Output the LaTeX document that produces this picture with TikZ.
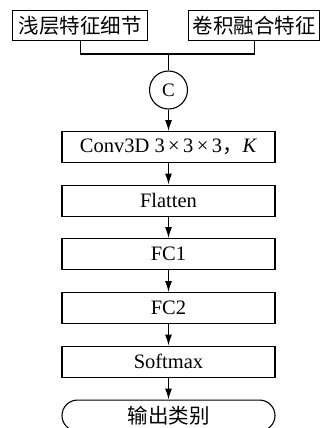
\documentclass[tikz,border=0pt]{standalone}
\usepackage{fontspec}
\setmainfont{Liberation Serif}
\newfontfamily\cjk{Noto Sans CJK SC}
\usetikzlibrary{arrows.meta,shapes.misc}
\newcommand{\tms}{\,×\,}
\begin{document}
\begin{tikzpicture}[x=1pt,y=-1pt,
  line width=1.1pt,
  font=\fontsize{20.5}{22}\selectfont,
  stagebox/.style={draw, minimum width=213pt, minimum height=31pt, inner sep=0pt, anchor=north},
  inbox/.style={draw, minimum height=30pt, inner sep=0pt, anchor=north west, font=\fontsize{20.5}{22}\selectfont\cjk},
  flow/.style={-{Latex[length=11pt,width=7pt]}},
]
\useasboundingbox (0,0) rectangle (321,428);

% inputs
\node[inbox, minimum width=135pt] (shallow) at (12,10) {浅层特征细节};
\node[inbox, minimum width=131pt] (fused) at (188,10) {卷积融合特征};

% concatenation
\node[draw, circle, minimum size=38pt, inner sep=0pt, font=\fontsize{19}{20}\selectfont] (cat) at (168.5,90) {C};
\coordinate (join) at (168.5,54);
\draw (shallow.south) |- (join) -| (fused.south);
\draw (join) -- (cat.north);

% processing chain
\node[stagebox] (conv) at (168.5,131) {Conv3D 3\tms 3\tms 3{\cjk ，}\textit{K}};
\node[stagebox] (flat) at (168.5,184.5) {Flatten};
\node[stagebox] (fc1)  at (168.5,238) {FC1};
\node[stagebox] (fc2)  at (168.5,292) {FC2};
\node[stagebox] (soft) at (168.5,345.5) {Softmax};
\node[draw, rounded rectangle, minimum width=213pt, minimum height=31pt, inner sep=0pt, anchor=north, font=\fontsize{20.5}{22}\selectfont\cjk] (out) at (168.5,399.5) {输出类别};

\draw[flow] (cat) -- (conv);
\draw[flow] (conv) -- (flat);
\draw[flow] (flat) -- (fc1);
\draw[flow] (fc1) -- (fc2);
\draw[flow] (fc2) -- (soft);
\draw[flow] (soft) -- (out);
\end{tikzpicture}
\end{document}
